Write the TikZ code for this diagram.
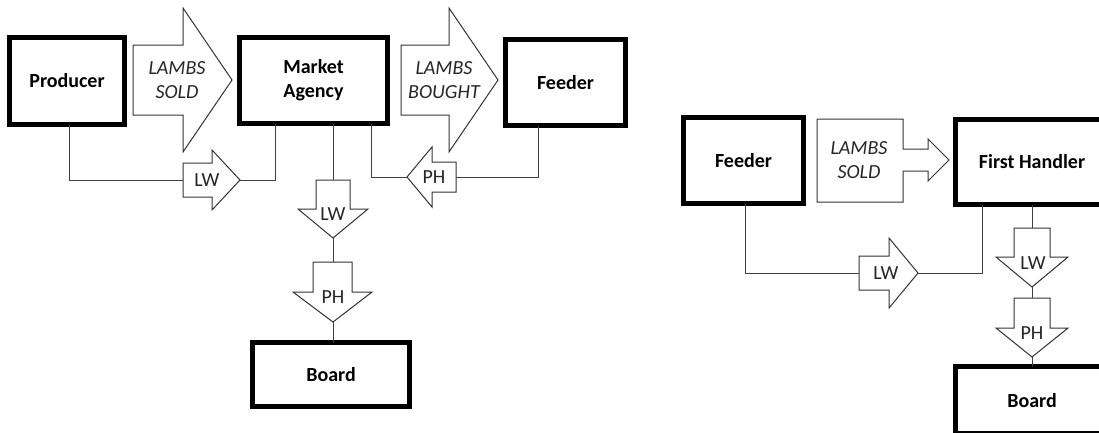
\documentclass[tikz,border=0pt]{standalone}
\usepackage{fontspec}
\setmainfont{Carlito}
\begin{document}
\begin{tikzpicture}[x=1pt,y=-1pt]
\tikzset{
 box/.style={draw=black,line width=4.6pt,fill=white,inner sep=0pt,outer sep=0pt,
   font=\fontsize{20}{24}\selectfont\bfseries,align=center},
 flow/.style={draw=black!80,line width=1pt,fill=white,line join=miter},
 conn/.style={draw=black!75,line width=0.9pt},
 lbl/.style={font=\fontsize{20}{24}\selectfont,text=black!85,inner sep=0pt,align=center},
 ilbl/.style={font=\fontsize{20}{24}\selectfont\itshape,text=black!85,inner sep=0pt,align=center},
}
\useasboundingbox (0,0) rectangle (1099,432);
\clip (0,0) rectangle (1099,432);
\fill[white] (0,0) rectangle (1099,432);

% ---------- left diagram: boxes ----------
\node[box,minimum width=115pt,minimum height=87pt] (prod) at (67,81) {Producer};
\node[box,minimum width=148pt,minimum height=86pt] (ma) at (313.5,80.5) {Market\\Agency};
\node[box,minimum width=120pt,minimum height=86pt] (feed1) at (565.5,82.5) {Feeder};
\node[box,minimum width=157pt,minimum height=64pt] (board1) at (331,374.5) {Board};

% big flow arrows
\draw[flow] (133,45) -- (183,45) -- (183,8) -- (232,80) -- (183,152) -- (183,115) -- (133,115) -- cycle;
\node[ilbl] (sold1) at (177,80) {LAMBS\\SOLD};
\draw[flow] (401,45) -- (449,45) -- (449,8) -- (498,80) -- (449,152) -- (449,115) -- (401,115) -- cycle;
\node[ilbl] (bought) at (444,80) {LAMBS\\BOUGHT};

% small LW arrow (producer -> market agency)
\coordinate (lwA-in) at (183,180);
\coordinate (lwA-out) at (240,180);
\draw[flow] (183,163) -- (212,163) -- (212,150) -- (240,180) -- (212,210) -- (212,197) -- (183,197) -- cycle;
\node[lbl] (lwA) at (207,180) {LW};
\draw[conn] ([xshift=2pt]prod.south) |- (lwA-in);
\draw[conn] (lwA-out) -| ([xshift=-38.5pt]ma.south);

% small PH arrow (feeder -> market agency)
\coordinate (phA-tip) at (407,177);
\coordinate (phA-tail) at (456,177);
\draw[flow] (456,162) -- (432,162) -- (432,147) -- (407,177) -- (432,207) -- (432,192) -- (456,192) -- cycle;
\node[lbl] (phA) at (434,177) {PH};
\draw[conn] ([xshift=57.5pt]ma.south) |- (phA-tip);
\draw[conn] (phA-tail) -| ([xshift=-27.5pt]feed1.south);

% vertical arrows to board
\coordinate (lwB-top) at (333,180);
\coordinate (lwB-tip) at (333,238);
\draw[flow] (316,180) -- (350,180) -- (350,209) -- (368,209) -- (333,238) -- (298,209) -- (316,209) -- cycle;
\node[lbl] (lwB) at (333,214) {LW};
\coordinate (phB-top) at (333,262);
\coordinate (phB-tip) at (333,322);
\draw[flow] (313,262) -- (352,262) -- (352,292) -- (372,292) -- (333,322) -- (293,292) -- (313,292) -- cycle;
\node[lbl] (phB) at (333,297) {PH};
\draw[conn] (ma.south -| lwB-top) -- (lwB-top);
\draw[conn] (lwB-tip) -- (phB-top);
\draw[conn] (phB-tip) -- (board1.north -| phB-tip);

% ---------- right diagram ----------
\node[box,minimum width=120pt,minimum height=86pt] (feed2) at (743.5,160.5) {Feeder};
\node[box,minimum width=153pt,minimum height=85pt] (fh) at (1032,162) {First Handler};
\node[box,minimum width=153pt,minimum height=67pt,text depth=0pt] (board2) at (1032,400) {Board};

\draw[flow] (817,119) -- (903,119) -- (903,149) -- (928,149) -- (928,139) -- (949,160) -- (928,181) -- (928,171) -- (903,171) -- (903,202) -- (817,202) -- cycle;
\node[ilbl] (sold2) at (859,160) {LAMBS\\SOLD};

\coordinate (lwC-in) at (859,273);
\coordinate (lwC-out) at (918,273);
\draw[flow] (859,256) -- (889,256) -- (889,238) -- (918,273) -- (889,308) -- (889,290) -- (859,290) -- cycle;
\node[lbl] (lwC) at (886,273) {LW};
\draw[conn] ([xshift=1.5pt]feed2.south) |- (lwC-in);
\draw[conn] (lwC-out) -| ([xshift=-50pt]fh.south);

\coordinate (lwD-top) at (1032,228);
\coordinate (lwD-tip) at (1032,287);
\draw[flow] (1014,228) -- (1050,228) -- (1050,257) -- (1068,257) -- (1032,287) -- (996,257) -- (1014,257) -- cycle;
\node[lbl] (lwD) at (1033,263) {LW};
\coordinate (phD-top) at (1032,298);
\coordinate (phD-tip) at (1032,357);
\draw[flow] (1014,298) -- (1050,298) -- (1050,328) -- (1068,328) -- (1032,357) -- (996,328) -- (1014,328) -- cycle;
\node[lbl] (phD) at (1032,333) {PH};
\draw[conn] (fh.south) -- (lwD-top);
\draw[conn] (lwD-tip) -- (phD-top);
\draw[conn] (phD-tip) -- (board2.north);
\end{tikzpicture}
\end{document}
